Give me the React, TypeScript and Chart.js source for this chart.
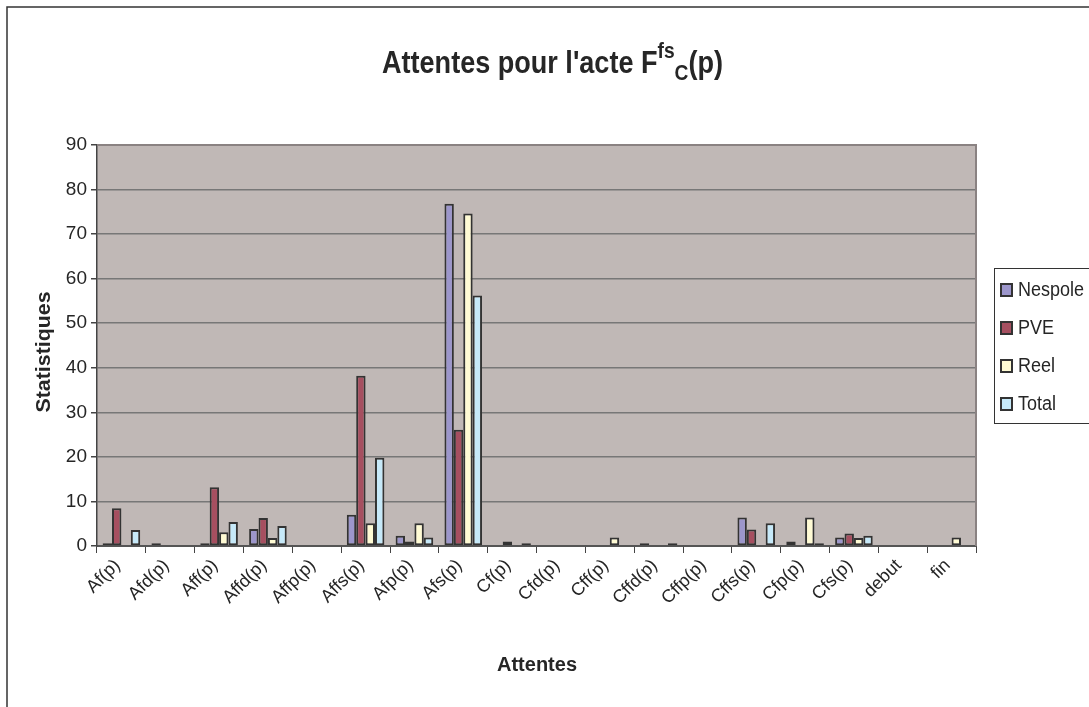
import React, { useEffect, useRef } from 'react';
import { Chart, registerables } from 'chart.js';
Chart.register(...registerables);

const categories = ['Af(p)', 'Afd(p)', 'Aff(p)', 'Affd(p)', 'Affp(p)', 'Affs(p)', 'Afp(p)', 'Afs(p)', 'Cf(p)', 'Cfd(p)', 'Cff(p)', 'Cffd(p)', 'Cffp(p)', 'Cffs(p)', 'Cfp(p)', 'Cfs(p)', 'debut', 'fin'];
const nespole = [0.6, 0.6, 0.6, 3.8, 0, 7.0, 2.3, 76.8, 0, 0, 0, 0.6, 0, 6.4, 1.0, 1.9, 0, 0];
const pve = [8.5, 0, 13.2, 6.3, 0, 38.2, 1.0, 26.1, 1.0, 0, 0, 0, 0, 3.7, 0, 2.8, 0, 0];
const reel = [0, 0, 3.1, 1.8, 0, 5.1, 5.1, 74.6, 0, 0, 1.9, 0, 0, 0, 6.4, 1.8, 0, 1.9];
const total = [3.6, 0, 5.4, 4.5, 0, 19.8, 1.9, 56.2, 0.6, 0, 0, 0.6, 0, 5.1, 0.6, 2.3, 0, 0];
const seriesNames = ['Nespole', 'PVE', 'Reel', 'Total'];
const seriesColors = ['#9C96CB', '#A64F60', '#FFFBD4', '#C6E9F9'];
const yTicksMax = 90;
const yStep = 10;

const FONT = '"Liberation Sans", Arial, sans-serif';
const TXT = '#262626';

function scaledText(ctx: any, text: string, font: string, cx: number, cy: number, targetW: number, rot = 0) {
  ctx.save();
  ctx.font = font;
  const w = ctx.measureText(text).width;
  ctx.translate(cx, cy);
  ctx.rotate(rot);
  ctx.scale(targetW / w, 1);
  ctx.textAlign = 'center';
  ctx.textBaseline = 'middle';
  ctx.fillText(text, 0, 0);
  ctx.restore();
}

const decorPlugin = {
  id: 'decor',
  beforeDraw(chart: any) {
    const { ctx, chartArea: a, width, height } = chart;
    ctx.save();
    ctx.fillStyle = '#ffffff';
    ctx.fillRect(0, 0, width, height);
    ctx.fillStyle = '#C0B8B6';
    ctx.fillRect(a.left, a.top, a.right - a.left, a.bottom - a.top);
    ctx.restore();
  },
  afterDraw(chart: any) {
    const { ctx, chartArea: a, width, height } = chart;
    ctx.save();
    // plot border top/right
    ctx.strokeStyle = '#8a8282';
    ctx.lineWidth = 2;
    ctx.beginPath();
    ctx.moveTo(a.left, a.top);
    ctx.lineTo(a.right, a.top);
    ctx.lineTo(a.right, a.bottom);
    ctx.stroke();
    // outer border
    ctx.strokeStyle = '#333';
    ctx.lineWidth = 1.5;
    ctx.beginPath();
    ctx.moveTo(7, height);
    ctx.lineTo(7, 7);
    ctx.lineTo(width, 7);
    ctx.stroke();

    // title
    const big = 'bold 31px ' + FONT;
    const small = 'bold 22px ' + FONT;
    const parts = [
      { t: "Attentes pour l'acte F", f: big, dy: 0 },
      { t: 'fs', f: small, dy: -15 },
      { t: 'C', f: small, dy: 7 },
      { t: '(p)', f: big, dy: 0 },
    ];
    let natural = 0;
    const ws = parts.map((p) => { ctx.font = p.f; const w = ctx.measureText(p.t).width; natural += w; return w; });
    const target = 341;
    const sx = target / natural;
    ctx.save();
    ctx.translate(382, 73);
    ctx.scale(sx, 1);
    ctx.fillStyle = TXT;
    ctx.textBaseline = 'alphabetic';
    ctx.textAlign = 'left';
    let x = 0;
    parts.forEach((p, i) => { ctx.font = p.f; ctx.fillText(p.t, x, p.dy); x += ws[i]; });
    ctx.restore();

    // axis titles
    ctx.fillStyle = TXT;
    scaledText(ctx, 'Attentes', 'bold 20px ' + FONT, 537, 665, 80);
    scaledText(ctx, 'Statistiques', 'bold 20px ' + FONT, 44, 352, 121, -Math.PI / 2);

    // legend
    ctx.strokeStyle = '#333';
    ctx.lineWidth = 1;
    ctx.strokeRect(994.5, 268.5, 110, 155);
    seriesNames.forEach((n, i) => {
      const yy = 290 + i * 38;
      ctx.fillStyle = seriesColors[i];
      ctx.fillRect(1001, yy - 6, 11, 12);
      ctx.strokeStyle = '#333';
      ctx.lineWidth = 2;
      ctx.strokeRect(1001, yy - 6, 11, 12);
      ctx.fillStyle = TXT;
      ctx.font = '20px ' + FONT;
      ctx.save();
      ctx.translate(1018, yy);
      ctx.scale(0.9, 1);
      ctx.textAlign = 'left';
      ctx.textBaseline = 'middle';
      ctx.fillText(n, 0, 0);
      ctx.restore();
    });
    ctx.restore();
  },
};

export default function App() {
  const ref = useRef<HTMLCanvasElement>(null);
  useEffect(() => {
    const datasets = [nespole, pve, reel, total].map((d, i) => ({
      label: seriesNames[i],
      data: d,
      backgroundColor: seriesColors[i],
      borderColor: '#333',
      borderWidth: 2,
      borderSkipped: false,
      categoryPercentage: 0.77,
      barPercentage: 1,
    }));
    const chart = new Chart(ref.current as HTMLCanvasElement, {
      type: 'bar',
      data: { labels: categories, datasets },
      options: {
        animation: false,
        responsive: false,
        devicePixelRatio: 1,
        datasets: { bar: { categoryPercentage: 0.77, barPercentage: 1 } },
        layout: { padding: { top: 145, right: 113, left: 0, bottom: 0 } },
        plugins: { legend: { display: false }, title: { display: false }, tooltip: { enabled: false } },
        scales: {
          x: {
            grid: { drawOnChartArea: false, drawTicks: true, tickLength: 7, color: '#444', offset: true },
            border: { display: true, color: '#555', width: 2 },
            ticks: { color: TXT, font: { family: FONT, size: 18 }, maxRotation: 45, minRotation: 45, autoSkip: false, padding: 2, labelOffset: -4 },
            afterFit: (s: any) => { s.height = 161; },
          },
          y: {
            min: 0,
            max: yTicksMax,
            ticks: { stepSize: yStep, color: TXT, font: { family: FONT, size: 19 }, padding: 4 },
            grid: { color: '#777', lineWidth: 1.5, drawTicks: true, tickLength: 6, tickColor: '#444' },
            border: { display: true, color: '#444', width: 1.5 },
            afterFit: (s: any) => { s.width = 97; },
          },
        },
      },
      plugins: [decorPlugin],
    });
    return () => chart.destroy();
  }, []);
  return (
    <div style={{ position: 'fixed', left: 0, top: 0, width: 1089, height: 707, background: '#fff' }}>
      <canvas ref={ref} width={1089} height={707} style={{ display: 'block' }} />
    </div>
  );
}
